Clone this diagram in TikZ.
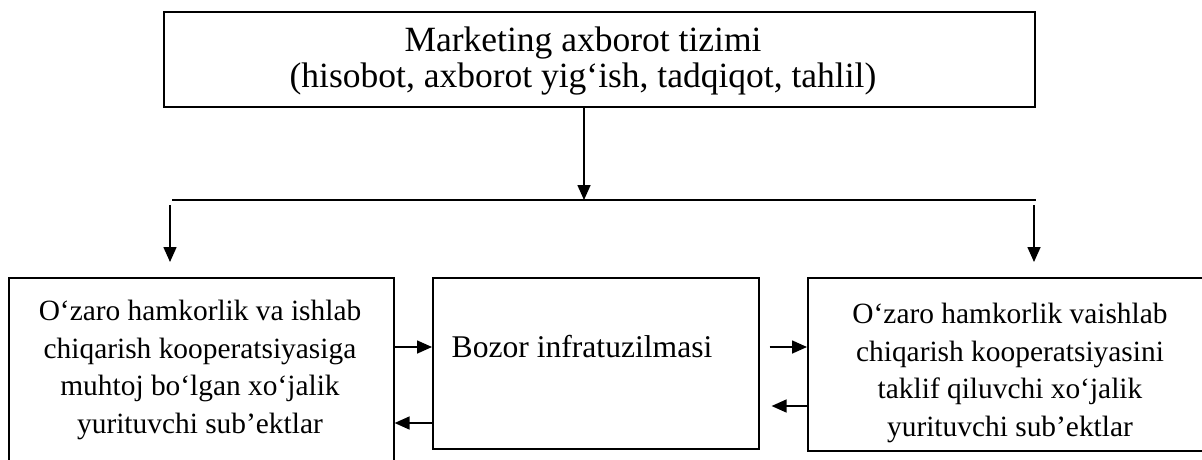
\documentclass[tikz,border=0pt]{standalone}
\usepackage{fontspec}
\setmainfont{Liberation Serif}
\usetikzlibrary{arrows.meta}
\begin{document}
\begin{tikzpicture}[x=1pt,y=-1pt,
  box/.style={draw=black,line width=1.6pt,rectangle,inner sep=0pt,anchor=north west},
  txt/.style={align=center,inner sep=0pt},
  big/.style={font=\fontsize{35.5}{36.5}\selectfont},
  mid/.style={font=\fontsize{31.6}{37.5}\selectfont},
  small/.style={font=\fontsize{29.4}{37.8}\selectfont},
  arr/.style={line width=1.6pt,-{Triangle[length=15pt,width=13pt]}},
  ln/.style={line width=1.6pt}]
\useasboundingbox (0,0) rectangle (1202,459);
% boxes
\node[box,minimum width=871pt,minimum height=95pt] (T) at (163,11) {};
\node[box,minimum width=385pt,minimum height=200pt] (L) at (8,277) {};
\node[box,minimum width=326pt,minimum height=171pt] (M) at (432,277) {};
\node[box,minimum width=406pt,minimum height=173pt] (R) at (807,277) {};
% texts
\node[txt,big] (Tt) at (583,61) {Marketing axborot tizimi\\(hisobot, axborot yig‘ish, tadqiqot, tahlil)};
\node[txt,small] (Lt) at (200,370) {O‘zaro hamkorlik va ishlab\\chiqarish kooperatsiyasiga\\muhtoj bo‘lgan xo‘jalik\\yurituvchi sub’ektlar};
\node[txt,mid] (Mt) at (582,347) {Bozor infratuzilmasi};
\node[txt,small] (Rt) at (1010,373) {O‘zaro hamkorlik vaishlab\\chiqarish kooperatsiyasini\\taklif qiluvchi xo‘jalik\\yurituvchi sub’ektlar};
% distribution line
\coordinate (hL) at (172,200);
\coordinate (hR) at (1036,200);
\coordinate (hc) at (584,200);
\draw[ln] (hL) -- (hR);
\draw[arr] (T.south -| hc) -- (hc);
% down arrows
\coordinate (dL) at (170,205);
\coordinate (dR) at (1034,205);
\draw[arr] (dL) -- ++(0,57);
\draw[arr] (dR) -- ++(0,57);
% horizontal arrows
\coordinate (y1) at (0,347);
\coordinate (y2) at (0,423);
\coordinate (y3) at (0,406);
\draw[arr] (L.east |- y1) -- (M.west |- y1);
\draw[arr] (M.west |- y2) -- (L.east |- y2);
\draw[arr] ([xshift=10pt]M.east |- y1) -- (R.west |- y1);
\draw[arr] (R.west |- y3) -- ([xshift=12pt]M.east |- y3);
\end{tikzpicture}
\end{document}
